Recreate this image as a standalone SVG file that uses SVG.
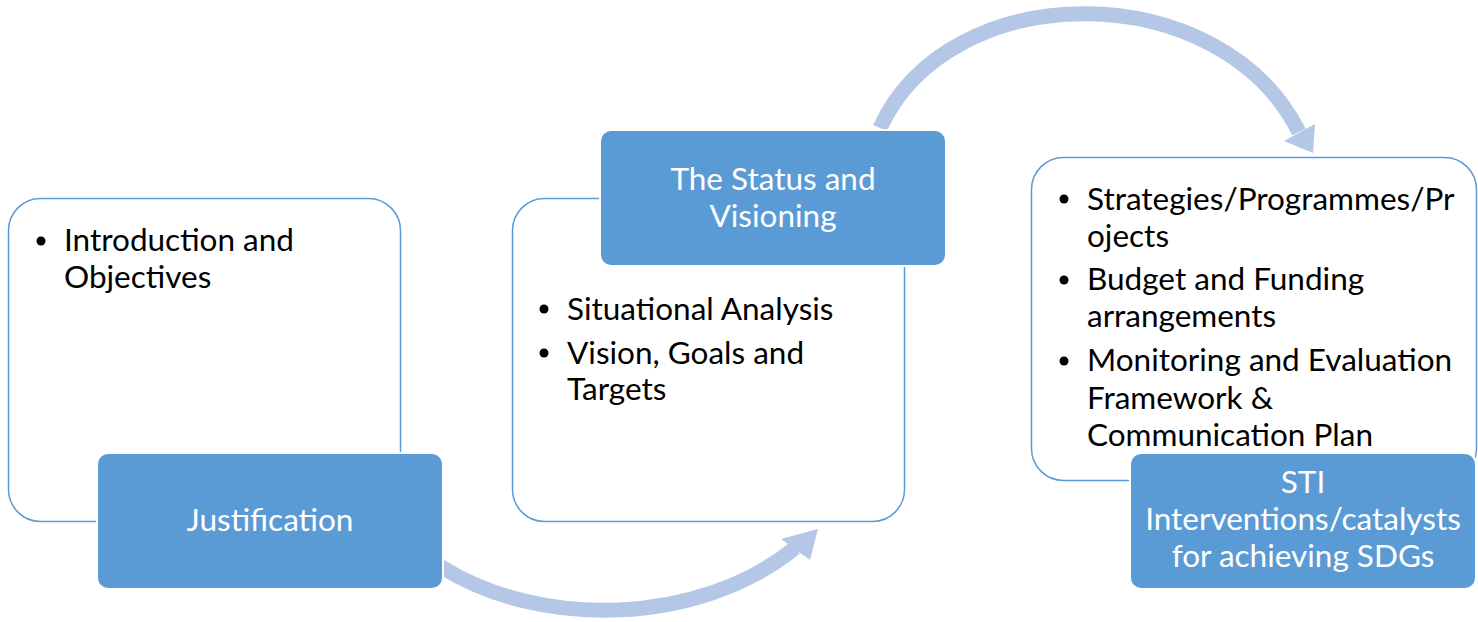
<svg xmlns="http://www.w3.org/2000/svg" width="1478" height="622" viewBox="0 0 1478 622">
<style>
.card{fill:#fff;stroke:#5b9bd5;stroke-width:1.5}
.tab{fill:#5b9bd5;stroke:#fff;stroke-width:2}
.arc{fill:none;stroke:#b4c7e7;stroke-width:15}
.head{fill:#b4c7e7}
.t{font-family:Lato,"Liberation Sans",sans-serif;font-size:31.5px;fill:#000}
.w{font-family:Lato,"Liberation Sans",sans-serif;font-size:31.5px;fill:#fff;text-anchor:middle}
</style>
<rect width="1478" height="622" fill="#fff"/>
<g id="connectors">
<path class="arc" d="M 440 566 C 540 630, 700 625, 795 548"/>
<polygon class="head" points="818,529 781,539 810,560"/>
<path class="arc" d="M 880 128 C 950 -25, 1220 -25, 1299 132"/>
<polygon class="head" points="1313,153 1284,141 1315,124"/>
</g>
<g id="card1">
<rect class="card" x="8.5" y="198.5" width="392" height="323" rx="32"/>
<circle cx="41" cy="241" r="4.5"/>
<text class="t" x="64" y="251">Introduction and</text>
<text class="t" x="64" y="288">Objectives</text>
</g>
<g id="justification">
<rect class="tab" x="97" y="453" width="346" height="136" rx="11"/>
<text class="w" x="270" y="531">Justification</text>
</g>
<g id="card2">
<rect class="card" x="512.5" y="198.5" width="392" height="323" rx="32"/>
<circle cx="544" cy="309" r="4.5"/>
<text class="t" x="567" y="320">Situational Analysis</text>
<circle cx="544" cy="353" r="4.5"/>
<text class="t" x="567" y="364">Vision, Goals and</text>
<text class="t" x="567" y="400">Targets</text>
</g>
<g id="status">
<rect class="tab" x="600" y="130" width="346" height="136" rx="11"/>
<text class="w" x="773" y="190">The Status and</text>
<text class="w" x="773" y="227">Visioning</text>
</g>
<g id="card3">
<rect class="card" x="1031.5" y="157.5" width="445" height="323" rx="32"/>
<circle cx="1064" cy="199" r="4.5"/>
<text class="t" x="1087" y="210">Strategies/Programmes/Pr</text>
<text class="t" x="1087" y="247">ojects</text>
<circle cx="1064" cy="280" r="4.5"/>
<text class="t" x="1087" y="290">Budget and Funding</text>
<text class="t" x="1087" y="327">arrangements</text>
<circle cx="1064" cy="361" r="4.5"/>
<text class="t" x="1087" y="371">Monitoring and Evaluation</text>
<text class="t" x="1087" y="409">Framework &amp;</text>
<text class="t" x="1087" y="446">Communication Plan</text>
</g>
<g id="sti">
<rect class="tab" x="1130" y="453" width="346" height="136" rx="11"/>
<text class="w" x="1303" y="493">STI</text>
<text class="w" x="1303" y="530">Interventions/catalysts</text>
<text class="w" x="1303" y="567">for achieving SDGs</text>
</g>
</svg>
